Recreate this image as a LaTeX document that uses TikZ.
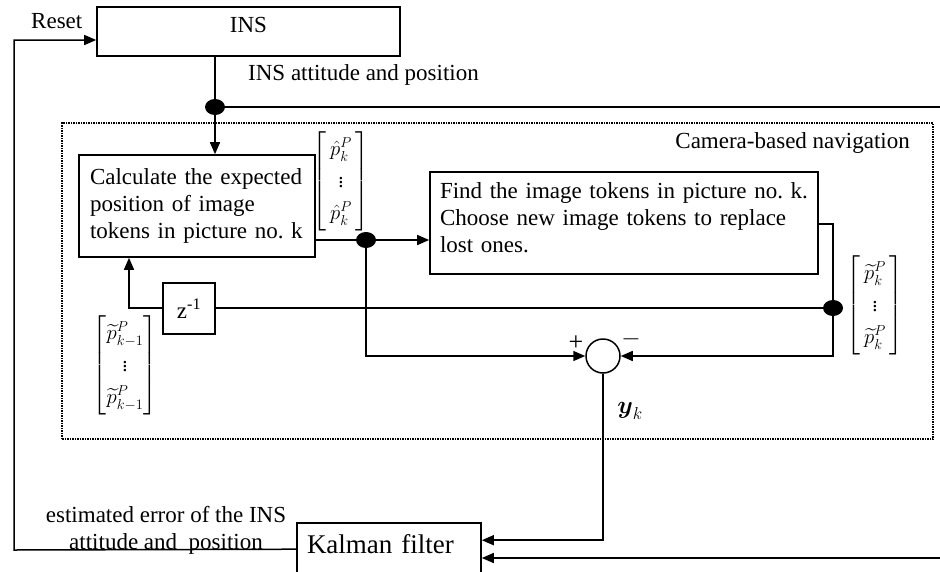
\documentclass[tikz,border=0pt]{standalone}
\usepackage{amsmath}
\usepackage{fontspec}
\setmainfont{Liberation Serif}
\usetikzlibrary{arrows.meta,shapes.geometric,calc}
\begin{document}
\begin{tikzpicture}[x=1pt,y=-1pt,
  every node/.style={font=\fontsize{23}{27}\selectfont},
  boxnode/.style={draw, line width=1.6pt, inner sep=0pt},
  conn/.style={line width=1.5pt},
  arr/.style={conn, -{Triangle[length=12pt,width=10pt]}},
  junc/.style={fill, ellipse, minimum width=20pt, minimum height=16pt, inner sep=0pt},
  lbl/.style={inner sep=0pt},
  vec/.style={inner sep=0pt, font=\fontsize{21}{25}\selectfont}
]
\useasboundingbox (0,0) rectangle (940,571);

% dotted frame
\node[draw, dash pattern=on 1.5pt off 1pt, line width=1.3pt, minimum width=871pt, minimum height=316pt, inner sep=0pt] (camnav) at (497.5,281) {};
\node[lbl, anchor=base east] (camlbl) at (910,148) {Camera-based navigation};

% blocks
\node[boxnode, minimum width=303pt, minimum height=49pt, text height=15pt, text depth=14pt] (ins) at (248.5,31.5) {INS};
\node[boxnode, minimum width=236pt, minimum height=102pt, inner xsep=11pt, text width=214pt, align=left] (calc) at (197,206) {Calculate the expected\\position of image\\tokens in picture no.\ k};
\node[boxnode, minimum height=102pt, inner xsep=10pt, text width=368pt, align=left] (find) at (624,223) {Find the image tokens in picture no.\ k.\\Choose new image tokens to replace\\lost ones.\rule[-10pt]{0pt}{10pt}};
\node[boxnode, minimum width=52pt, minimum height=51pt] (zinv) at (189,308.5) {z\textsuperscript{-1}};
\node[draw, circle, line width=1.5pt, minimum size=34pt, inner sep=0pt] (sum) at (603,356) {};
\node[boxnode, minimum height=60pt, inner xsep=10pt, text width=164pt, align=left, text height=18.4pt, text depth=18.4pt, font=\fontsize{27}{32}\selectfont] (kalman) at (389,553) {Kalman filter};

% vectors
\node[vec] (phat) at (341,181) {$\def\arraystretch{1.28}\left[\begin{array}{@{\,}c@{\,}}\hat{p}_k^{P}\\ \vdots\\ \hat{p}_k^{P}\end{array}\right]$};
\node[vec] (ptr) at (875,305) {$\def\arraystretch{1.28}\left[\begin{array}{@{\,}c@{\,}}\widetilde{p}_k^{P}\\ \vdots\\ \widetilde{p}_k^{P}\end{array}\right]$};
\node[vec] (ptl) at (125,365) {$\def\arraystretch{1.28}\left[\begin{array}{@{}c@{}}\widetilde{p}_{k-1}^{P}\\ \vdots\\ \widetilde{p}_{k-1}^{P}\end{array}\right]$};

% labels
\node[lbl, anchor=base west] (reset) at (31,28) {Reset};
\node[lbl, anchor=base west] (insout) at (248,80) {INS attitude and position};
\node[lbl, align=center] (estlbl) at (166,530) {estimated error of the INS\\attitude and\ \ position};
\node[lbl, font=\fontsize{26}{30}\selectfont] (plus) at (576,343) {+};
\node[lbl] (minus) at (631,339) {$-$};
\node[lbl] (yk) at (630,411) {$\boldsymbol{y}_k$};

% junctions
\node[junc] (d1) at (215,107) {};
\node[junc] (d2) at (366,240) {};
\node[junc] (d3) at (833,308) {};

% coordinates
\coordinate (rt) at (940,107);
\coordinate (fo) at (833,224);
\coordinate (zl) at (129,308);
\coordinate (rb) at (940,558);
\coordinate (kin1) at ($(kalman.north east)+(0,18)$);
\coordinate (kout) at ($(kalman.north west)+(0,27)$);
\coordinate (lb) at (14,550);
\coordinate (lt) at (14,40);

% connectors
\draw[arr] (ins.south -| d1) -- (d1) -- (calc.north -| d1);
\draw[conn] (d1) -- (rt);
\draw[arr] (calc.east |- d2) -- (d2) -- (find.west |- d2);
\draw[arr] (find.east |- fo) -- (fo) -- (fo |- sum) -- (sum.east);
\draw[conn] (d3) -- (zinv.east |- d3);
\draw[arr] (zinv.west |- zl) -- (zl) -- (zl |- calc.south);
\draw[arr] (d2) -- (d2 |- sum) -- (sum.west);
\draw[arr] (sum.south) -- (sum.south |- kin1) -- (kin1);
\draw[arr] (rb) -- (kalman.east |- rb);
\draw[arr] (kout) -- (lb) -- (lt) -- (ins.west |- lt);
\end{tikzpicture}
\end{document}
